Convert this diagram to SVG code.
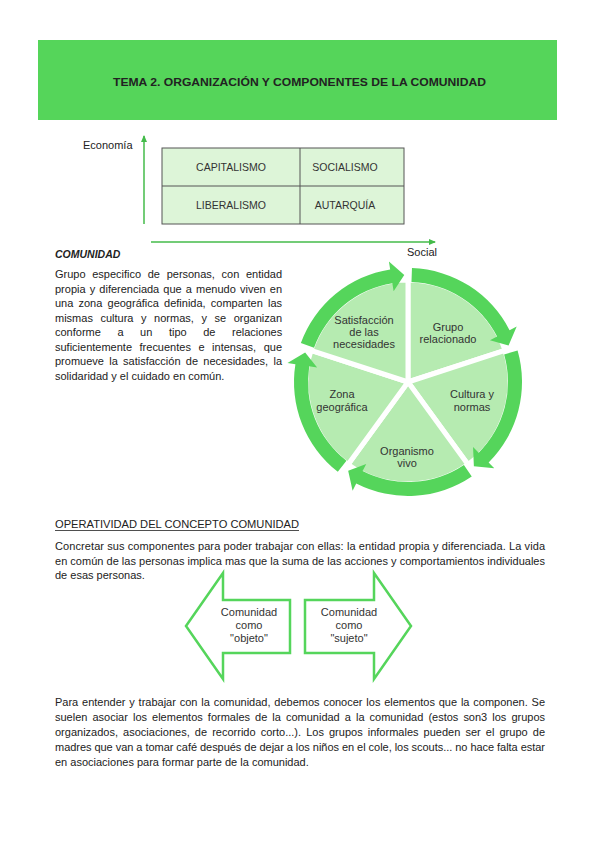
<svg xmlns="http://www.w3.org/2000/svg" width="599" height="848" viewBox="0 0 599 848">
<style>
text{font-family:"Liberation Sans",Arial,sans-serif;fill:#222}
.t{font-size:11px}
.c{font-size:11px;text-anchor:middle;fill:#333}
.g{font-size:10.5px;text-anchor:middle;fill:#333}
.wedge{fill:#b6ebb1;stroke:#fff;stroke-width:5;stroke-linejoin:miter}
.ring{fill:#55d55b}
.blk{fill:#fff;stroke:#55d55b;stroke-width:2.5}
.axis{stroke:#44bb4a;stroke-width:1.5;fill:none}
</style>
<defs>
<marker id="ah" markerWidth="8" markerHeight="8" refX="6" refY="4" orient="auto" markerUnits="userSpaceOnUse">
<path d="M0,1 L7,4 L0,7 Z" fill="#44bb4a"/>
</marker>
</defs>
<rect width="599" height="848" fill="#fff"/>

<g id="header">
<rect x="38" y="40" width="519" height="80" fill="#55d55a"/>
<text x="299.5" y="86" text-anchor="middle" font-size="11.5" font-weight="bold" fill="#000" textLength="373" lengthAdjust="spacingAndGlyphs">TEMA 2. ORGANIZACIÓN Y COMPONENTES DE LA COMUNIDAD</text>
</g>

<g id="connectors">
<line class="axis" x1="144" y1="224" x2="144" y2="136" marker-end="url(#ah)"/>
<line class="axis" x1="151" y1="242" x2="435" y2="242" marker-end="url(#ah)"/>
</g>

<g id="axis-labels">
<text class="t" x="83" y="149" font-size="10.5">Economía</text>
<text class="t" x="407" y="256" font-size="10.5">Social</text>
</g>

<g id="grid">
<rect x="162" y="148" width="242" height="76" fill="#ddf5d8" stroke="#555" stroke-width="1"/>
<line x1="162" y1="186" x2="404" y2="186" stroke="#555" stroke-width="1"/>
<line x1="300" y1="148" x2="300" y2="224" stroke="#555" stroke-width="1"/>
<text class="g" x="231" y="171">CAPITALISMO</text>
<text class="g" x="345" y="171">SOCIALISMO</text>
<text class="g" x="231" y="209">LIBERALISMO</text>
<text class="g" x="345" y="209">AUTARQUÍA</text>
</g>

<g id="comunidad-text">
<text x="55" y="258" font-size="10.5" font-weight="bold" font-style="italic" fill="#111">COMUNIDAD</text>
<text class="t" x="55" y="278" word-spacing="3.7" textLength="227" lengthAdjust="spacing">Grupo especifico de personas, con entidad</text>
<text class="t" x="55" y="292.5" word-spacing="1.07" textLength="227" lengthAdjust="spacing">propia y diferenciada que a menudo viven en</text>
<text class="t" x="55" y="307" word-spacing="2.1" textLength="227" lengthAdjust="spacing">una zona geográfica definida, comparten las</text>
<text class="t" x="55" y="321.5" word-spacing="4.5" textLength="227" lengthAdjust="spacing">mismas cultura y normas, y se organizan</text>
<text class="t" y="336"><tspan x="55">conforme</tspan><tspan x="117.4">a</tspan><tspan x="140.1">un</tspan><tspan x="168.9">tipo</tspan><tspan x="203.2">de</tspan><tspan x="232">relaciones</tspan></text>
<text class="t" x="55" y="350.5" word-spacing="4.5" textLength="227" lengthAdjust="spacing">suficientemente frecuentes e intensas, que</text>
<text class="t" x="55" y="365" word-spacing="2.2" textLength="227" lengthAdjust="spacing">promueve la satisfacción de necesidades, la</text>
<text class="t" x="55" y="379.5">solidaridad y el cuidado en común.</text>
</g>

<g id="cycle">
<g id="w-grupo"><path class="wedge" d="M408,382 L408,280 A102,102 0 0 1 505.01,350.48 Z"/></g>
<g id="w-cultura"><path class="wedge" d="M408,382 L505.01,350.48 A102,102 0 0 1 467.96,464.52 Z"/></g>
<g id="w-organismo"><path class="wedge" d="M408,382 L467.96,464.52 A102,102 0 0 1 348.04,464.52 Z"/></g>
<g id="w-zona"><path class="wedge" d="M408,382 L348.04,464.52 A102,102 0 0 1 310.99,350.48 Z"/></g>
<g id="w-satis"><path class="wedge" d="M408,382 L310.99,350.48 A102,102 0 0 1 408,280 Z"/></g>

<path class="ring" d="M411.98,268.07 A114,114 0 0 1 509.57,330.24 L516.70,326.61 L508.55,345.41 L489.97,340.23 L497.10,336.60 A100,100 0 0 0 411.49,282.06 Z"/>
<path class="ring" d="M517.59,350.58 A114,114 0 0 1 488.61,462.61 L494.27,468.27 L473.88,466.32 L473.05,447.05 L478.71,452.71 A100,100 0 0 0 504.13,354.44 Z"/>
<path class="ring" d="M471.75,476.51 A114,114 0 0 1 356.24,483.57 L352.61,490.70 L348.17,470.70 L366.23,463.97 L362.60,471.10 A100,100 0 0 0 463.92,464.90 Z"/>
<path class="ring" d="M337.81,471.83 A114,114 0 0 1 295.40,364.17 L287.50,362.92 L305.14,352.51 L317.13,367.61 L309.23,366.36 A100,100 0 0 0 346.43,460.80 Z"/>
<path class="ring" d="M300.87,343.01 A114,114 0 0 1 390.17,269.40 L388.92,261.50 L404.27,275.06 L393.61,291.13 L392.36,283.23 A100,100 0 0 0 314.03,347.80 Z"/>

<text class="c" x="364" y="324">Satisfacción</text>
<text class="c" x="364" y="336">de las</text>
<text class="c" x="364" y="348">necesidades</text>
<text class="c" x="448" y="331">Grupo</text>
<text class="c" x="448" y="343">relacionado</text>
<text class="c" x="472" y="398">Cultura y</text>
<text class="c" x="472" y="411">normas</text>
<text class="c" x="407" y="455">Organismo</text>
<text class="c" x="407" y="467">vivo</text>
<text class="c" x="342" y="398">Zona</text>
<text class="c" x="342" y="411">geográfica</text>
</g>

<g id="operatividad">
<text class="t" x="55" y="528" textLength="244" lengthAdjust="spacingAndGlyphs">OPERATIVIDAD DEL CONCEPTO COMUNIDAD</text>
<line x1="55" y1="530.5" x2="299" y2="530.5" stroke="#222" stroke-width="0.8"/>
<text class="t" x="55" y="550" textLength="490" lengthAdjust="spacing">Concretar sus componentes para poder trabajar con ellas: la entidad propia y diferenciada.  La vida</text>
<text class="t" x="55" y="565" textLength="490" lengthAdjust="spacing">en común de las personas implica mas que la suma de las acciones y comportamientos individuales</text>
<text class="t" x="55" y="579">de esas personas.</text>
</g>

<g id="objeto">
<path class="blk" d="M186,626 L223,573 L223,600 L290,600 L290,653 L223,653 L223,679 Z"/>
<text class="c" x="249" y="616">Comunidad</text>
<text class="c" x="249" y="629">como</text>
<text class="c" x="249" y="642">"objeto"</text>
</g>

<g id="sujeto">
<path class="blk" d="M305,600 L374,600 L374,573 L411,626 L374,679 L374,653 L305,653 Z"/>
<text class="c" x="349" y="616">Comunidad</text>
<text class="c" x="349" y="629">como</text>
<text class="c" x="349" y="642">"sujeto"</text>
</g>

<g id="final-text">
<text class="t" x="55" y="706" word-spacing="0.76" textLength="490" lengthAdjust="spacing">Para entender y trabajar con la comunidad, debemos conocer los elementos que la componen. Se</text>
<text class="t" x="55" y="721" word-spacing="2" textLength="490" lengthAdjust="spacing">suelen asociar los elementos formales de la comunidad a la comunidad (estos son3 los grupos</text>
<text class="t" x="55" y="736" word-spacing="2.06" textLength="490" lengthAdjust="spacing">organizados, asociaciones, de recorrido corto...). Los grupos informales pueden ser el grupo de</text>
<text class="t" x="55" y="751" textLength="490" lengthAdjust="spacing">madres que van a tomar café después de dejar a los niños en el cole, los scouts... no hace falta estar</text>
<text class="t" x="55" y="765.5">en asociaciones para formar parte de la comunidad.</text>
</g>
</svg>
